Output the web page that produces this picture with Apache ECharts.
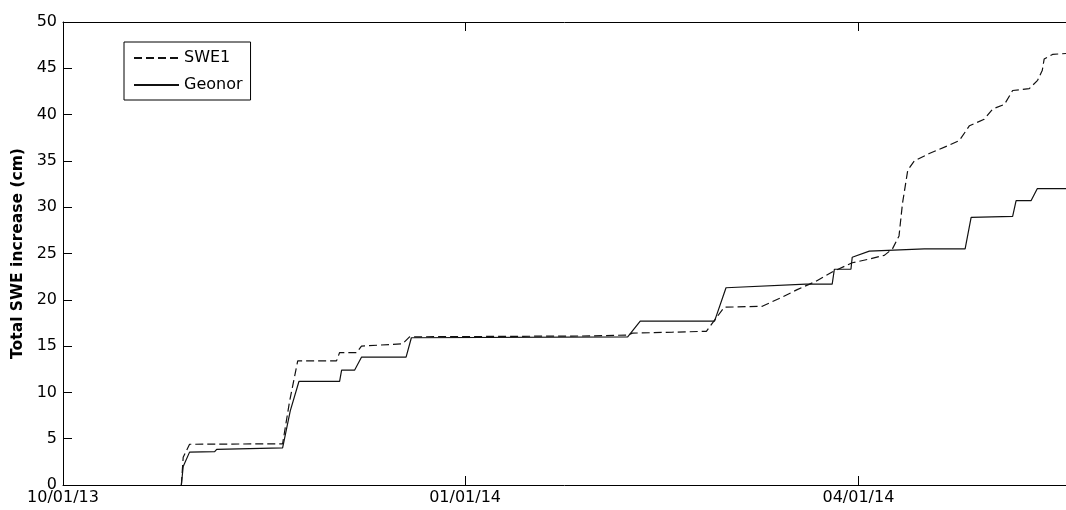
<!DOCTYPE html>
<html>
<head>
<meta charset="utf-8">
<script src="https://cdn.jsdelivr.net/npm/echarts@6/dist/echarts.min.js"></script>
<style>
  html, body { margin: 0; padding: 0; background: #fff; }
  #chart { width: 1066px; height: 510px; }
</style>
</head>
<body>
<div id="chart"></div>
<script>
var tickDates = ['2013-10-01', '2014-01-01', '2014-04-01'];
var tickLabels = ['10/01/13', '01/01/14', '04/01/14'];
var xMin = '2013-10-01';
var xMax = '2014-05-18 12:00';

var sweDates = [
  '2013-10-28 02:00', '2013-10-28 12:00', '2013-10-29 23:00', '2013-11-20 06:00',
  '2013-11-21 20:00', '2013-11-23 17:00', '2013-12-02 14:00', '2013-12-03 07:00',
  '2013-12-07 05:00', '2013-12-08 07:00', '2013-12-17 17:00', '2013-12-19 07:00',
  '2014-01-30 14:00', '2014-02-07 05:00', '2014-02-08 07:00', '2014-02-17 12:00',
  '2014-02-25 05:00', '2014-03-01 07:00', '2014-03-10 00:00', '2014-03-14 14:00',
  '2014-03-18 00:00', '2014-03-22 07:00', '2014-03-26 00:00', '2014-03-30 14:00',
  '2014-04-03 12:00', '2014-04-06 22:00', '2014-04-08 19:00', '2014-04-10 07:00',
  '2014-04-11 02:00', '2014-04-12 07:00', '2014-04-13 19:00', '2014-04-17 05:00',
  '2014-04-21 19:00', '2014-04-24 02:00', '2014-04-26 10:00', '2014-04-29 19:00',
  '2014-05-01 17:00', '2014-05-04 10:00', '2014-05-06 07:00', '2014-05-10 02:00',
  '2014-05-12 00:00', '2014-05-13 02:00', '2014-05-13 12:00', '2014-05-15 10:00',
  '2014-05-18 12:00'
];
var sweValues = [
  0, 3.0, 4.4, 4.45,
  9.0, 13.4, 13.4, 14.3,
  14.3, 15.0, 15.25, 16.0,
  16.1, 16.2, 16.4, 16.5,
  16.6, 19.2, 19.3, 20.3,
  21.1, 22.0, 23.0, 24.0,
  24.4, 24.8, 25.5, 26.9,
  30.4, 34.0, 35.0, 35.8,
  36.7, 37.2, 38.8, 39.5,
  40.6, 41.1, 42.6, 42.8,
  43.7, 44.8, 46.0, 46.5,
  46.6
];

var geonorDates = [
  '2013-10-28 02:00', '2013-10-28 12:00', '2013-10-29 23:00', '2013-11-04 17:00',
  '2013-11-05 04:00', '2013-11-20 06:00', '2013-11-22 00:00', '2013-11-24 00:00',
  '2013-12-03 07:00', '2013-12-03 18:00', '2013-12-06 17:00', '2013-12-08 07:00',
  '2013-12-18 12:00', '2013-12-19 17:00', '2014-02-07 05:00', '2014-02-10 02:00',
  '2014-02-27 02:00', '2014-03-01 17:00', '2014-03-20 00:00', '2014-03-26 00:00',
  '2014-03-26 12:00', '2014-03-30 07:00', '2014-03-30 14:00', '2014-04-03 12:00',
  '2014-04-16 02:00', '2014-04-25 10:00', '2014-04-26 19:00', '2014-05-06 07:00',
  '2014-05-07 02:00', '2014-05-10 12:00', '2014-05-11 22:00', '2014-05-18 12:00'
];
var geonorValues = [
  0, 2.0, 3.55, 3.6,
  3.85, 4.0, 8.0, 11.2,
  11.2, 12.4, 12.4, 13.8,
  13.8, 15.9, 16.0, 17.7,
  17.7, 21.3, 21.7, 21.7,
  23.3, 23.3, 24.6, 25.25,
  25.5, 25.5, 28.9, 29.0,
  30.7, 30.7, 32.0, 32.0
];

function toTime(s) {
  return echarts.time.parse(s).getTime();
}
function zip(dates, values) {
  return dates.map(function (d, i) { return [toTime(d), values[i]]; });
}

var tickTimes = tickDates.map(toTime);
var font = 'DejaVu Sans';

var myChart = echarts.init(document.getElementById('chart'));

// dates are plotted on a value axis (ms) so the three ticks can be placed exactly
var baseX = {
  type: 'value',
  min: toTime(xMin),
  max: toTime(xMax),
  axisLine: { lineStyle: { color: '#000', width: 1 } },
  axisTick: { inside: true, length: 9, lineStyle: { color: '#000' }, customValues: tickTimes },
  splitLine: { show: false }
};

var option = {
  animation: false,
  backgroundColor: '#fff',
  grid: { left: 63, right: 0, top: 22, bottom: 25 },
  legend: {
    orient: 'vertical',
    left: 124,
    top: 42,
    padding: [8, 8, 7, 9],
    itemWidth: 45,
    itemHeight: 14,
    itemGap: 11,
    borderColor: '#000',
    borderWidth: 1,
    backgroundColor: '#fff',
    // hide the marker dot, keep only the line sample
    itemStyle: { color: 'rgba(0,0,0,0)', borderWidth: 0, opacity: 0 },
    textStyle: { fontFamily: font, fontSize: 16, color: '#000' },
    data: ['SWE1', 'Geonor']
  },
  xAxis: [
    Object.assign({}, baseX, {
      position: 'bottom',
      axisLabel: {
        fontFamily: font, fontSize: 16, color: '#000', margin: 5,
        customValues: tickTimes,
        formatter: function (v) {
          var i = tickTimes.indexOf(v);
          return i >= 0 ? tickLabels[i] : '';
        }
      }
    }),
    Object.assign({}, baseX, {
      position: 'top',
      axisLabel: { show: false }
    })
  ],
  yAxis: {
    type: 'value',
    min: 0,
    max: 50,
    interval: 5,
    name: 'Total SWE increase (cm)',
    nameLocation: 'middle',
    nameGap: 36,
    nameTextStyle: { fontFamily: font, fontSize: 15.5, fontWeight: 'bold', color: '#000' },
    axisLine: { show: true, lineStyle: { color: '#000', width: 1 } },
    axisTick: { show: true, inside: true, length: 9, lineStyle: { color: '#000' } },
    axisLabel: { fontFamily: font, fontSize: 16, color: '#000', margin: 6 },
    splitLine: { show: false }
  },
  series: [
    {
      name: 'SWE1',
      type: 'line',
      symbol: 'none',
      data: zip(sweDates, sweValues),
      lineStyle: { color: '#111', width: 1.2, type: [8, 4] },
      itemStyle: { color: '#111' }
    },
    {
      name: 'Geonor',
      type: 'line',
      symbol: 'none',
      data: zip(geonorDates, geonorValues),
      lineStyle: { color: '#111', width: 1.2, type: 'solid' },
      itemStyle: { color: '#111' }
    }
  ]
};

myChart.setOption(option);
</script>
</body>
</html>
